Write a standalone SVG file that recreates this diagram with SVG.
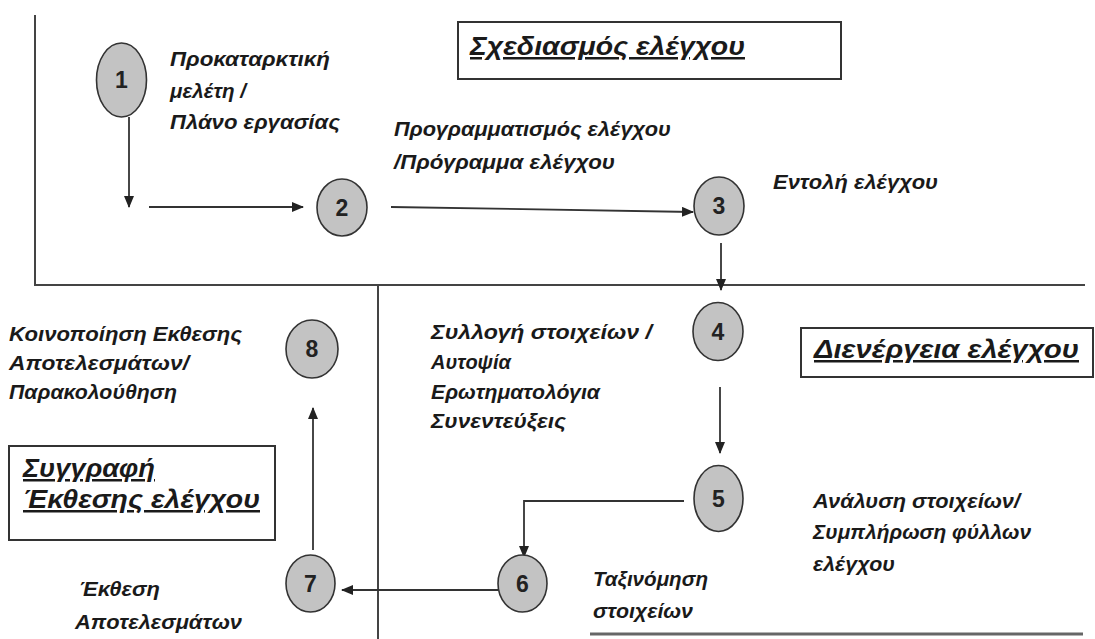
<svg xmlns="http://www.w3.org/2000/svg" width="1095" height="639" viewBox="0 0 1095 639">
<defs>
<style>
.frame{stroke:#444;stroke-width:2;fill:none}
.conn{stroke:#333;stroke-width:1.8;fill:none}
.node ellipse{fill:#c3c3c3;stroke:#333;stroke-width:1.6}
.num{font-family:"Liberation Sans",Arial,sans-serif;font-weight:bold;font-size:23px;fill:#222;text-anchor:middle}
.lbl{font-family:"Liberation Sans",Arial,sans-serif;font-weight:bold;font-style:italic;font-size:20px;fill:#1a1a1a}
.ttl{font-family:"Liberation Sans",Arial,sans-serif;font-weight:bold;font-style:italic;font-size:25px;fill:#1a1a1a;text-decoration:underline}
.box{fill:#fff;stroke:#333;stroke-width:2}
</style>
<marker id="ah" markerUnits="userSpaceOnUse" markerWidth="12" markerHeight="10" refX="11" refY="5" orient="auto">
<path d="M0,0 L12,5 L0,10 Z" fill="#222"/>
</marker>
</defs>
<rect width="1095" height="639" fill="#fff"/>
<g id="frame">
<path class="frame" d="M35,15 V285 H1085"/>
<path class="frame" d="M378,285 V639"/>
<path d="M590,634 H1083" stroke="#666" stroke-width="3" fill="none"/>
</g>
<g id="titles">
<g id="title-planning">
<rect class="box" x="458" y="22" width="383" height="57"/>
<text class="ttl" x="470" y="55" textLength="275" lengthAdjust="spacingAndGlyphs">Σχεδιασμός ελέγχου</text>
</g>
<g id="title-conduct">
<rect class="box" x="801" y="328" width="292" height="49"/>
<text class="ttl" x="814" y="358" textLength="265" lengthAdjust="spacingAndGlyphs">Διενέργεια ελέγχου</text>
</g>
<g id="title-report">
<rect class="box" x="9" y="446" width="266" height="94"/>
<text class="ttl" x="23" y="477" textLength="132" lengthAdjust="spacingAndGlyphs">Συγγραφή</text>
<text class="ttl" x="23" y="508" textLength="237" lengthAdjust="spacingAndGlyphs">Έκθεσης ελέγχου</text>
</g>
</g>
<g id="connectors">
<path class="conn" d="M129,117 V207" marker-end="url(#ah)"/>
<path class="conn" d="M149,207 H303" marker-end="url(#ah)"/>
<path class="conn" d="M391,207 L693,212" marker-end="url(#ah)"/>
<path class="conn" d="M721,243 V290" marker-end="url(#ah)"/>
<path class="conn" d="M720,387 V453" marker-end="url(#ah)"/>
<path class="conn" d="M684,501 H524 V557" marker-end="url(#ah)"/>
<path class="conn" d="M498,590 H342" marker-end="url(#ah)"/>
<path class="conn" d="M313,550 V408" marker-end="url(#ah)"/>
</g>
<g id="node1" class="node">
<ellipse cx="121.5" cy="80" rx="25" ry="37"/>
<text class="num" x="121.5" y="88">1</text>
<text class="lbl" x="170" y="66" textLength="160" lengthAdjust="spacingAndGlyphs">Προκαταρκτική</text>
<text class="lbl" x="170" y="98" textLength="76" lengthAdjust="spacingAndGlyphs">μελέτη /</text>
<text class="lbl" x="170" y="129" textLength="170" lengthAdjust="spacingAndGlyphs">Πλάνο εργασίας</text>
</g>
<g id="node2" class="node">
<ellipse cx="342" cy="207.5" rx="25" ry="28.5"/>
<text class="num" x="342" y="215.5">2</text>
<text class="lbl" x="394" y="136" textLength="277" lengthAdjust="spacingAndGlyphs">Προγραμματισμός ελέγχου</text>
<text class="lbl" x="394" y="169" textLength="221" lengthAdjust="spacingAndGlyphs">/Πρόγραμμα ελέγχου</text>
</g>
<g id="node3" class="node">
<ellipse cx="719" cy="206" rx="25" ry="29"/>
<text class="num" x="719" y="214">3</text>
<text class="lbl" x="773" y="189" textLength="165" lengthAdjust="spacingAndGlyphs">Εντολή ελέγχου</text>
</g>
<g id="node4" class="node">
<ellipse cx="718" cy="331.5" rx="25" ry="29"/>
<text class="num" x="718" y="339.5">4</text>
<text class="lbl" x="431" y="339" textLength="221" lengthAdjust="spacingAndGlyphs">Συλλογή στοιχείων /</text>
<text class="lbl" x="431" y="369" textLength="80" lengthAdjust="spacingAndGlyphs">Αυτοψία</text>
<text class="lbl" x="431" y="399" textLength="169" lengthAdjust="spacingAndGlyphs">Ερωτηματολόγια</text>
<text class="lbl" x="431" y="428" textLength="135" lengthAdjust="spacingAndGlyphs">Συνεντεύξεις</text>
</g>
<g id="node5" class="node">
<ellipse cx="718.5" cy="498.5" rx="24.5" ry="33"/>
<text class="num" x="718.5" y="506.5">5</text>
<text class="lbl" x="813" y="508" textLength="207" lengthAdjust="spacingAndGlyphs">Ανάλυση στοιχείων/</text>
<text class="lbl" x="813" y="539" textLength="218" lengthAdjust="spacingAndGlyphs">Συμπλήρωση φύλλων</text>
<text class="lbl" x="813" y="571" textLength="82" lengthAdjust="spacingAndGlyphs">ελέγχου</text>
</g>
<g id="node6" class="node">
<ellipse cx="522.5" cy="583.5" rx="24.5" ry="28.5"/>
<text class="num" x="522.5" y="591.5">6</text>
<text class="lbl" x="593" y="586" textLength="115" lengthAdjust="spacingAndGlyphs">Ταξινόμηση</text>
<text class="lbl" x="593" y="618" textLength="100" lengthAdjust="spacingAndGlyphs">στοιχείων</text>
</g>
<g id="node7" class="node">
<ellipse cx="310.5" cy="583.5" rx="24.5" ry="28.5"/>
<text class="num" x="310.5" y="591.5">7</text>
<text class="lbl" x="79" y="596" textLength="81" lengthAdjust="spacingAndGlyphs">Έκθεση</text>
<text class="lbl" x="75" y="629" textLength="167" lengthAdjust="spacingAndGlyphs">Αποτελεσμάτων</text>
</g>
<g id="node8" class="node">
<ellipse cx="312" cy="349" rx="26" ry="29"/>
<text class="num" x="312" y="357">8</text>
<text class="lbl" x="9" y="341" textLength="233" lengthAdjust="spacingAndGlyphs">Κοινοποίηση Εκθεσης</text>
<text class="lbl" x="9" y="370" textLength="180" lengthAdjust="spacingAndGlyphs">Αποτελεσμάτων/</text>
<text class="lbl" x="9" y="399" textLength="168" lengthAdjust="spacingAndGlyphs">Παρακολούθηση</text>
</g>
</svg>
